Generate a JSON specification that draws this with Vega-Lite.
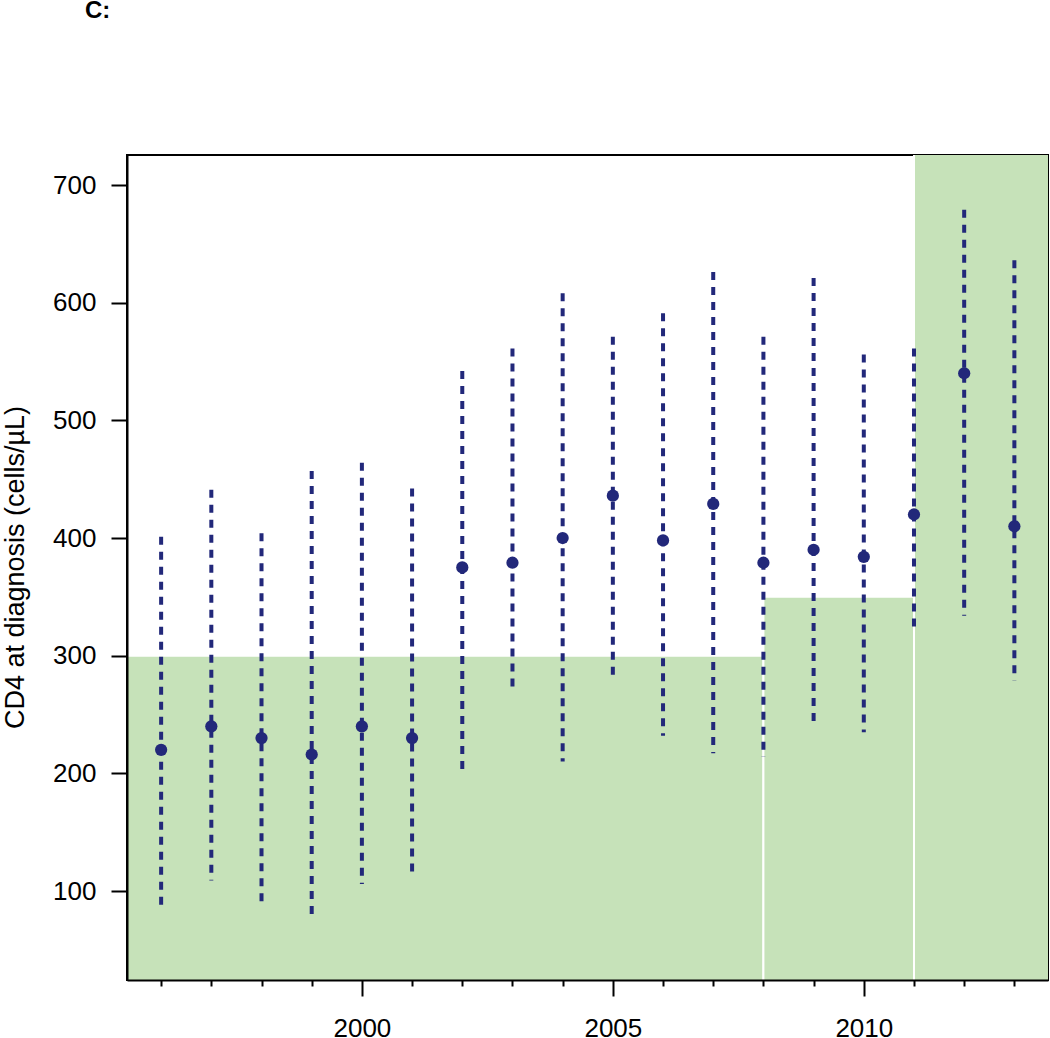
{
  "$schema": "https://vega.github.io/schema/vega-lite/v6.json",
  "width": 921,
  "height": 825,
  "autosize": {"type": "none"},
  "padding": {"left": 127, "top": 155, "right": 2, "bottom": 58},
  "background": "white",
  "config": {
    "font": "Liberation Sans",
    "view": {"stroke": "black", "strokeWidth": 2}
  },
  "title": {
    "text": "C:",
    "anchor": "start",
    "frame": "group",
    "fontSize": 24,
    "fontWeight": "bold",
    "color": "black",
    "baseline": "alphabetic",
    "offset": 113,
    "dx": -42
  },
  "datasets": {
    "periods": [
      {"start": 1990, "end": 2008, "threshold": 300},
      {"start": 2008, "end": 2011, "threshold": 350},
      {"start": 2011, "end": 2020, "threshold": 800}
    ],
    "cd4": [
      {"year": 1996, "median": 220, "low": 86, "high": 401},
      {"year": 1997, "median": 240, "low": 109, "high": 441},
      {"year": 1998, "median": 230, "low": 86, "high": 404},
      {"year": 1999, "median": 216, "low": 75, "high": 457},
      {"year": 2000, "median": 240, "low": 106, "high": 464},
      {"year": 2001, "median": 230, "low": 111, "high": 442},
      {"year": 2002, "median": 375, "low": 200, "high": 542},
      {"year": 2003, "median": 379, "low": 268, "high": 561},
      {"year": 2004, "median": 400, "low": 210, "high": 608},
      {"year": 2005, "median": 436, "low": 278, "high": 571},
      {"year": 2006, "median": 398, "low": 232, "high": 591},
      {"year": 2007, "median": 429, "low": 217, "high": 626},
      {"year": 2008, "median": 379, "low": 214, "high": 571},
      {"year": 2009, "median": 390, "low": 241, "high": 621},
      {"year": 2010, "median": 384, "low": 235, "high": 556},
      {"year": 2011, "median": 420, "low": 319, "high": 561},
      {"year": 2012, "median": 540, "low": 334, "high": 679},
      {"year": 2013, "median": 410, "low": 279, "high": 636}
    ]
  },
  "layer": [
    {
      "data": {"name": "periods"},
      "mark": {"type": "rect", "fill": "#c6e2b9", "stroke": "white", "strokeWidth": 2, "clip": true},
      "encoding": {
        "x": {
          "field": "start",
          "type": "quantitative",
          "scale": {"domain": [1995.32, 2013.67], "nice": false, "zero": false},
          "axis": {
            "values": [1996, 1997, 1998, 1999, 2000, 2001, 2002, 2003, 2004, 2005, 2006, 2007, 2008, 2009, 2010, 2011, 2012, 2013],
            "title": null,
            "grid": false,
            "domain": true,
            "domainColor": "black",
            "domainWidth": 2,
            "tickColor": "black",
            "tickWidth": 2,
            "tickSize": {"condition": {"test": "datum.value % 5 === 0", "value": 16}, "value": 6},
            "labelExpr": "datum.value % 5 === 0 ? '' + datum.value : ''",
            "labelFontSize": 26,
            "labelColor": "black",
            "labelPadding": 19,
            "labelBaseline": "top",
            "zindex": 1
          }
        },
        "x2": {"field": "end"},
        "y": {
          "field": "threshold",
          "type": "quantitative",
          "scale": {"domain": [24.4, 725.5], "nice": false, "zero": false},
          "axis": {
            "values": [100, 200, 300, 400, 500, 600, 700],
            "title": "CD4 at diagnosis (cells/µL)",
            "titleFontSize": 27,
            "titleFontWeight": "normal",
            "titleColor": "black",
            "titleX": -104,
            "titleY": 412,
            "titleAngle": -90,
            "titleAlign": "center",
            "titleBaseline": "alphabetic",
            "grid": false,
            "domain": true,
            "domainColor": "black",
            "domainWidth": 2,
            "tickColor": "black",
            "tickWidth": 2,
            "tickSize": 16,
            "labelFontSize": 26,
            "labelColor": "black",
            "labelPadding": 15,
            "zindex": 1
          }
        },
        "y2": {"datum": 0}
      }
    },
    {
      "data": {"name": "cd4"},
      "mark": {"type": "rule", "color": "#22287a", "strokeWidth": 4, "strokeDash": [8, 7], "strokeCap": "butt"},
      "encoding": {
        "x": {"field": "year", "type": "quantitative"},
        "y": {"field": "high", "type": "quantitative"},
        "y2": {"field": "low"}
      }
    },
    {
      "data": {"name": "cd4"},
      "mark": {"type": "circle", "color": "#22287a", "opacity": 1, "size": 150},
      "encoding": {
        "x": {"field": "year", "type": "quantitative"},
        "y": {"field": "median", "type": "quantitative"}
      }
    }
  ]
}
